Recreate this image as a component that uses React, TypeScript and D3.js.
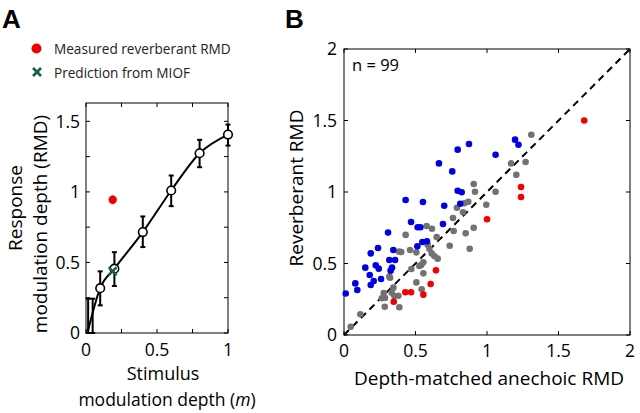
import React from 'react';
import * as d3 from 'd3';

// ---------- Panel A data ----------
const stimM = [0.015, 0.047, 0.1, 0.2, 0.4, 0.6, 0.8, 1.0];
const rmdMean = [0.0, 0.1, 0.318, 0.456, 0.715, 1.01, 1.274, 1.406];
const rmdLow = [0.0, 0.0, 0.196, 0.333, 0.609, 0.899, 1.175, 1.328];
const rmdHigh = [0.243, 0.243, 0.437, 0.573, 0.826, 1.116, 1.369, 1.477];
const showMarker = [false, false, true, true, true, true, true, true];
const curveM = [0.01, 0.1, 0.2, 0.4, 0.6, 0.8, 1.0];
const curveRMD = [0.0, 0.318, 0.456, 0.715, 1.01, 1.274, 1.406];
const measuredM = [0.188];
const measuredRMD = [0.944];
const measuredErr = [0.03];
const predictM = [0.188];
const predictRMD = [0.439];
const aTicksX = [0, 0.25, 0.5, 0.75, 1];
const aTickLabelsX = ['0', '', '0.5', '', '1'];
const aTicksY = [0, 0.25, 0.5, 0.75, 1, 1.25, 1.5];
const aTickLabelsY = ['0', '', '0.5', '', '1', '', '1.5'];

// ---------- Panel B data ----------
const grayX = [1.31, 1.168, 1.27, 1.205, 0.907, 0.916, 1.06, 0.869, 0.841, 0.79, 0.995, 0.832, 0.762, 0.578, 0.615, 0.907, 0.767, 0.851, 0.431, 0.648, 0.585, 0.597, 0.739, 0.879, 0.385, 0.40, 0.462, 0.506, 0.613, 0.632, 0.655, 0.471, 0.527, 0.555, 0.555, 0.317, 0.506, 0.543, 0.278, 0.287, 0.264, 0.334, 0.345, 0.352, 0.38, 0.285, 0.387, 0.114, 0.047, 0.54, 0.322];
const grayY = [1.40, 1.20, 1.21, 1.12, 1.056, 1.002, 1.002, 0.932, 0.921, 0.89, 0.911, 0.858, 0.818, 0.762, 0.743, 0.75, 0.727, 0.711, 0.70, 0.685, 0.631, 0.603, 0.624, 0.603, 0.583, 0.58, 0.594, 0.578, 0.571, 0.552, 0.534, 0.462, 0.483, 0.508, 0.431, 0.408, 0.368, 0.32, 0.294, 0.259, 0.257, 0.296, 0.331, 0.273, 0.275, 0.198, 0.194, 0.145, 0.058, 0.49, 0.40];
const blueX = [1.196, 1.22, 0.874, 0.795, 1.06, 0.664, 0.757, 0.795, 0.823, 0.431, 0.552, 0.701, 0.813, 0.469, 0.692, 0.515, 0.534, 0.308, 0.548, 0.58, 0.513, 0.238, 0.187, 0.345, 0.317, 0.357, 0.149, 0.222, 0.243, 0.336, 0.326, 0.18, 0.208, 0.187, 0.259, 0.079, 0.093, 0.012];
const blueY = [1.366, 1.33, 1.336, 1.296, 1.26, 1.20, 1.144, 1.009, 0.998, 0.944, 0.93, 0.904, 0.918, 0.79, 0.776, 0.753, 0.753, 0.716, 0.65, 0.655, 0.62, 0.608, 0.571, 0.594, 0.524, 0.524, 0.471, 0.487, 0.464, 0.471, 0.45, 0.42, 0.378, 0.35, 0.392, 0.361, 0.315, 0.29];
const redX = [1.68, 1.238, 1.238, 1.0, 0.643, 0.606, 0.429, 0.469, 0.555, 0.348];
const redY = [1.50, 1.035, 0.965, 0.809, 0.452, 0.357, 0.299, 0.299, 0.282, 0.233];
const bTicks = [0, 0.5, 1, 1.5, 2];
const bTickLabels = ['0', '0.5', '1', '1.5', '2'];
const nLabel = 'n = 99';

const FONT = "'Open Sans', 'Noto Sans', sans-serif";
const RED = '#f00000';
const BLUE = '#0000e6';
const GRAY = '#727272';
const GREEN = '#1b5e4c';

export default function App() {
  // Panel A scales
  const xA = d3.scaleLinear().domain([0, 1]).range([86, 228]);
  const yA = d3.scaleLinear().domain([0, 1.63]).range([333, 103]);
  // Panel B scales
  const xB = d3.scaleLinear().domain([0, 2]).range([344, 630]);
  const yB = d3.scaleLinear().domain([0, 2]).range([335, 49]);

  const curvePts: [number, number][] = curveM.map((m, i) => [xA(m), yA(curveRMD[i])]);
  const curvePath = d3.line().curve(d3.curveMonotoneX)(curvePts) || '';

  const tickLen = 4;
  const cap = 2.5;

  const [ax0, ax1] = xA.range();
  const [ay0, ay1] = yA.range();
  const [bx0, bx1] = xB.range();
  const [by0, by1] = yB.range();

  return (
    <svg width={640} height={413} style={{ position: 'absolute', left: 0, top: 0, background: '#fff' }} fontFamily={FONT}>
      <rect x={0} y={0} width={640} height={413} fill="#fff" />
      {/* ===== Panel A ===== */}
      <text x={2} y={28} fontSize={26} fontWeight="bold" fontFamily="'Liberation Sans', Arial, sans-serif">A</text>
      {/* legend */}
      <circle cx={36.5} cy={48.5} r={5} fill={RED} />
      <text x={54} y={54} fontSize={13.6} fill="#222">Measured reverberant RMD</text>
      <g stroke={GREEN} strokeWidth={2.6}>
        <line x1={33} y1={68} x2={41} y2={76} />
        <line x1={41} y1={68} x2={33} y2={76} />
      </g>
      <text x={54} y={78} fontSize={13.6} fill="#222">Prediction from MIOF</text>

      {/* frame */}
      <rect x={ax0} y={ay1} width={ax1 - ax0} height={ay0 - ay1} fill="none" stroke="#000" strokeWidth={1} />
      {aTicksX.map((t, i) => (
        <g key={'ax' + i}>
          <line x1={xA(t)} x2={xA(t)} y1={ay0} y2={ay0 - tickLen} stroke="#000" />
          <line x1={xA(t)} x2={xA(t)} y1={ay1} y2={ay1 + tickLen} stroke="#000" />
          {aTickLabelsX[i] && (
            <text x={xA(t)} y={356} fontSize={17.5} textAnchor="middle">{aTickLabelsX[i]}</text>
          )}
        </g>
      ))}
      {aTicksY.map((t, i) => (
        <g key={'ay' + i}>
          <line x1={ax0} x2={ax0 + tickLen} y1={yA(t)} y2={yA(t)} stroke="#000" />
          <line x1={ax1} x2={ax1 - tickLen} y1={yA(t)} y2={yA(t)} stroke="#000" />
          {aTickLabelsY[i] && (
            <text x={80} y={yA(t)} dy="0.36em" fontSize={17.5} textAnchor="end">{aTickLabelsY[i]}</text>
          )}
        </g>
      ))}
      {/* axis labels */}
      <text x={163} y={380} fontSize={18} textAnchor="middle">Stimulus</text>
      <text x={167} y={406} fontSize={17.5} textAnchor="middle">
        modulation depth (<tspan fontStyle="italic">m</tspan>)
      </text>
      <text transform="translate(22,208) rotate(-90)" fontSize={19} textAnchor="middle">Response</text>
      <text transform="translate(47,224) rotate(-90)" fontSize={19} textAnchor="middle">modulation depth (RMD)</text>

      {/* curve */}
      <path d={curvePath} fill="none" stroke="#000" strokeWidth={2} />
      {/* error bars */}
      {stimM.map((m, i) => (
        <g key={'eb' + i} stroke="#000" strokeWidth={2}>
          <line x1={xA(m)} x2={xA(m)} y1={yA(rmdLow[i])} y2={yA(rmdHigh[i])} />
          <line x1={xA(m) - cap} x2={xA(m) + cap} y1={yA(rmdLow[i])} y2={yA(rmdLow[i])} />
          <line x1={xA(m) - cap} x2={xA(m) + cap} y1={yA(rmdHigh[i])} y2={yA(rmdHigh[i])} />
        </g>
      ))}
      {stimM.map((m, i) =>
        showMarker[i] ? (
          <circle key={'mk' + i} cx={xA(m)} cy={yA(rmdMean[i])} r={4.3} fill="#fff" stroke="#000" strokeWidth={1.6} />
        ) : null
      )}
      {/* measured reverberant */}
      {measuredM.map((m, i) => (
        <g key={'ms' + i}>
          <line x1={xA(m)} x2={xA(m)} y1={yA(measuredRMD[i] - measuredErr[i])} y2={yA(measuredRMD[i] + measuredErr[i])} stroke={RED} strokeWidth={2} />
          <circle cx={xA(m)} cy={yA(measuredRMD[i])} r={4.2} fill={RED} />
        </g>
      ))}
      {predictM.map((m, i) => (
        <g key={'pr' + i} stroke={GREEN} strokeWidth={2.4}>
          <line x1={xA(m) - 4} y1={yA(predictRMD[i]) - 4} x2={xA(m) + 4} y2={yA(predictRMD[i]) + 4} />
          <line x1={xA(m) + 4} y1={yA(predictRMD[i]) - 4} x2={xA(m) - 4} y2={yA(predictRMD[i]) + 4} />
        </g>
      ))}

      {/* ===== Panel B ===== */}
      <text x={285} y={28} fontSize={26} fontWeight="bold" fontFamily="'Liberation Sans', Arial, sans-serif">B</text>
      <rect x={bx0} y={by1} width={bx1 - bx0} height={by0 - by1} fill="none" stroke="#000" strokeWidth={1} />
      {bTicks.map((t, i) => (
        <g key={'bt' + i}>
          <line x1={xB(t)} x2={xB(t)} y1={by0} y2={by0 - tickLen} stroke="#000" />
          <line x1={xB(t)} x2={xB(t)} y1={by1} y2={by1 + tickLen} stroke="#000" />
          <line x1={bx0} x2={bx0 + tickLen} y1={yB(t)} y2={yB(t)} stroke="#000" />
          <line x1={bx1} x2={bx1 - tickLen} y1={yB(t)} y2={yB(t)} stroke="#000" />
          <text x={xB(t)} y={357} fontSize={17.5} textAnchor="middle">{bTickLabels[i]}</text>
          <text x={337} y={yB(t)} dy="0.36em" fontSize={17.5} textAnchor="end">{bTickLabels[i]}</text>
        </g>
      ))}
      <text x={352} y={71} fontSize={16.5}>{nLabel}</text>
      <text x={489} y={385} fontSize={19} textAnchor="middle">Depth-matched anechoic RMD</text>
      <text transform="translate(303,188) rotate(-90)" fontSize={19} textAnchor="middle">Reverberant RMD</text>

      {/* unity line */}
      <line x1={xB(0)} y1={yB(0)} x2={xB(2)} y2={yB(2)} stroke="#000" strokeWidth={2} strokeDasharray="7,5" />

      {grayX.map((x, i) => (
        <circle key={'g' + i} cx={xB(x)} cy={yB(grayY[i])} r={3.3} fill={GRAY} />
      ))}
      {blueX.map((x, i) => (
        <circle key={'b' + i} cx={xB(x)} cy={yB(blueY[i])} r={3.3} fill={BLUE} />
      ))}
      {redX.map((x, i) => (
        <circle key={'r' + i} cx={xB(x)} cy={yB(redY[i])} r={3.3} fill={RED} />
      ))}
    </svg>
  );
}
